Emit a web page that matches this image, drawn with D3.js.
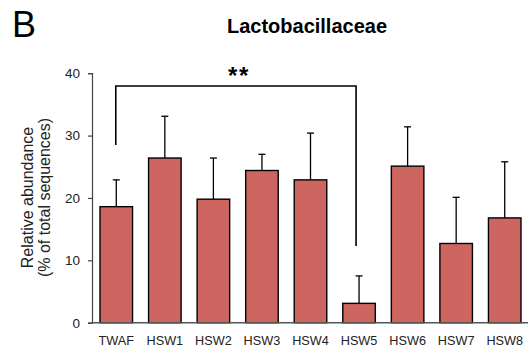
<!DOCTYPE html>
<html>
<head>
<meta charset="utf-8">
<script src="https://cdn.jsdelivr.net/npm/d3@7"></script>
<style>
  html, body { margin: 0; padding: 0; background: #fff; }
  svg { display: block; font-family: "Liberation Sans", Arial, sans-serif; }
</style>
</head>
<body>
<svg id="chart" width="528" height="351"></svg>
<script>
// Lactobacillaceae relative abundance per sample group (mean + SD)
const groups = ["TWAF", "HSW1", "HSW2", "HSW3", "HSW4", "HSW5", "HSW6", "HSW7", "HSW8"];
const means  = [18.6, 26.4, 19.8, 24.4, 22.9, 3.1, 25.1, 12.7, 16.8];
const errors = [4.3, 6.7, 6.6, 2.6, 7.5, 4.4, 6.3, 7.4, 9.0];
const yTicks = [0, 10, 20, 30, 40];
const bracketPair = ["TWAF", "HSW5"];
const bracketLevel = 37.95;
const bracketEnds = [28.5, 12.3];
const signif = "**";

const svg = d3.select("#chart");

const x = d3.scaleBand()
  .domain(groups)
  .range([92, 529])
  .paddingInner(0.33)
  .paddingOuter(0.165);

const y = d3.scaleLinear().domain([0, 40]).range([322.7, 73.2]);

// panel letter and title
svg.append("text").attr("x", 12).attr("y", 36.5)
  .attr("font-size", 36).attr("fill", "#000").text("B");
svg.append("text").attr("x", 307).attr("y", 33)
  .attr("text-anchor", "middle").attr("font-size", 20).attr("font-weight", "bold")
  .attr("fill", "#000").text("Lactobacillaceae");

// y axis
const yAxis = svg.append("g").attr("transform", "translate(92,0)")
  .call(d3.axisLeft(y).tickValues(yTicks).tickSize(4).tickPadding(8));
yAxis.select(".domain").attr("stroke", "#444").attr("stroke-width", 1.2);
yAxis.selectAll(".tick line").attr("stroke", "#444").attr("stroke-width", 1.2);
yAxis.selectAll(".tick text").attr("font-size", 13.5).attr("fill", "#222")
  .attr("font-family", "Liberation Sans, Arial, sans-serif");

// y axis title
const yTitle = svg.append("text")
  .attr("transform", "translate(33,197.5) rotate(-90)")
  .attr("text-anchor", "middle").attr("font-size", 16).attr("fill", "#222");
yTitle.append("tspan").attr("x", 0).attr("dy", 0).text("Relative abundance");
yTitle.append("tspan").attr("x", 0).attr("dy", 16.5).text("(% of total sequences)");

// error bars (upper only)
const eb = svg.append("g");
groups.forEach((g, i) => {
  const cx = x(g) + x.bandwidth() / 2;
  eb.append("line").attr("x1", cx).attr("x2", cx)
    .attr("y1", y(means[i])).attr("y2", y(means[i] + errors[i]))
    .attr("stroke", "#000").attr("stroke-width", 1.3);
  eb.append("line").attr("x1", cx - 3.5).attr("x2", cx + 3.5)
    .attr("y1", y(means[i] + errors[i])).attr("y2", y(means[i] + errors[i]))
    .attr("stroke", "#000").attr("stroke-width", 1.3);
});

// bars
svg.append("g").selectAll("rect").data(groups).join("rect")
  .attr("x", d => x(d))
  .attr("y", (d, i) => y(means[i]))
  .attr("width", x.bandwidth())
  .attr("height", (d, i) => y(0) - y(means[i]))
  .attr("fill", "#CD6661")
  .attr("stroke", "#000").attr("stroke-width", 1.4);

// x axis
const xAxis = svg.append("g").attr("transform", `translate(0,${y(0)})`)
  .call(d3.axisBottom(x).tickSize(0).tickPadding(13));
xAxis.select(".domain").attr("d", "M92,0H528").attr("stroke", "#555").attr("stroke-width", 1.4);
xAxis.selectAll(".tick text").attr("font-size", 12.7).attr("fill", "#222")
  .attr("font-family", "Liberation Sans, Arial, sans-serif");

// significance bracket
const bx0 = x(bracketPair[0]) + x.bandwidth() / 2 - 0.5;
const bx1 = x(bracketPair[1]) + x.bandwidth() / 2 - 3;
svg.append("path")
  .attr("d", `M${bx0},${y(bracketEnds[0])}V${y(bracketLevel)}H${bx1}V${y(bracketEnds[1])}`)
  .attr("fill", "none").attr("stroke", "#000").attr("stroke-width", 1.6);
svg.append("text").attr("x", (bx0 + bx1) / 2 + 3).attr("y", 84)
  .attr("text-anchor", "middle").attr("font-size", 24).attr("font-weight", "bold")
  .attr("letter-spacing", 1.5)
  .attr("fill", "#000").text(signif);
</script>
</body>
</html>
